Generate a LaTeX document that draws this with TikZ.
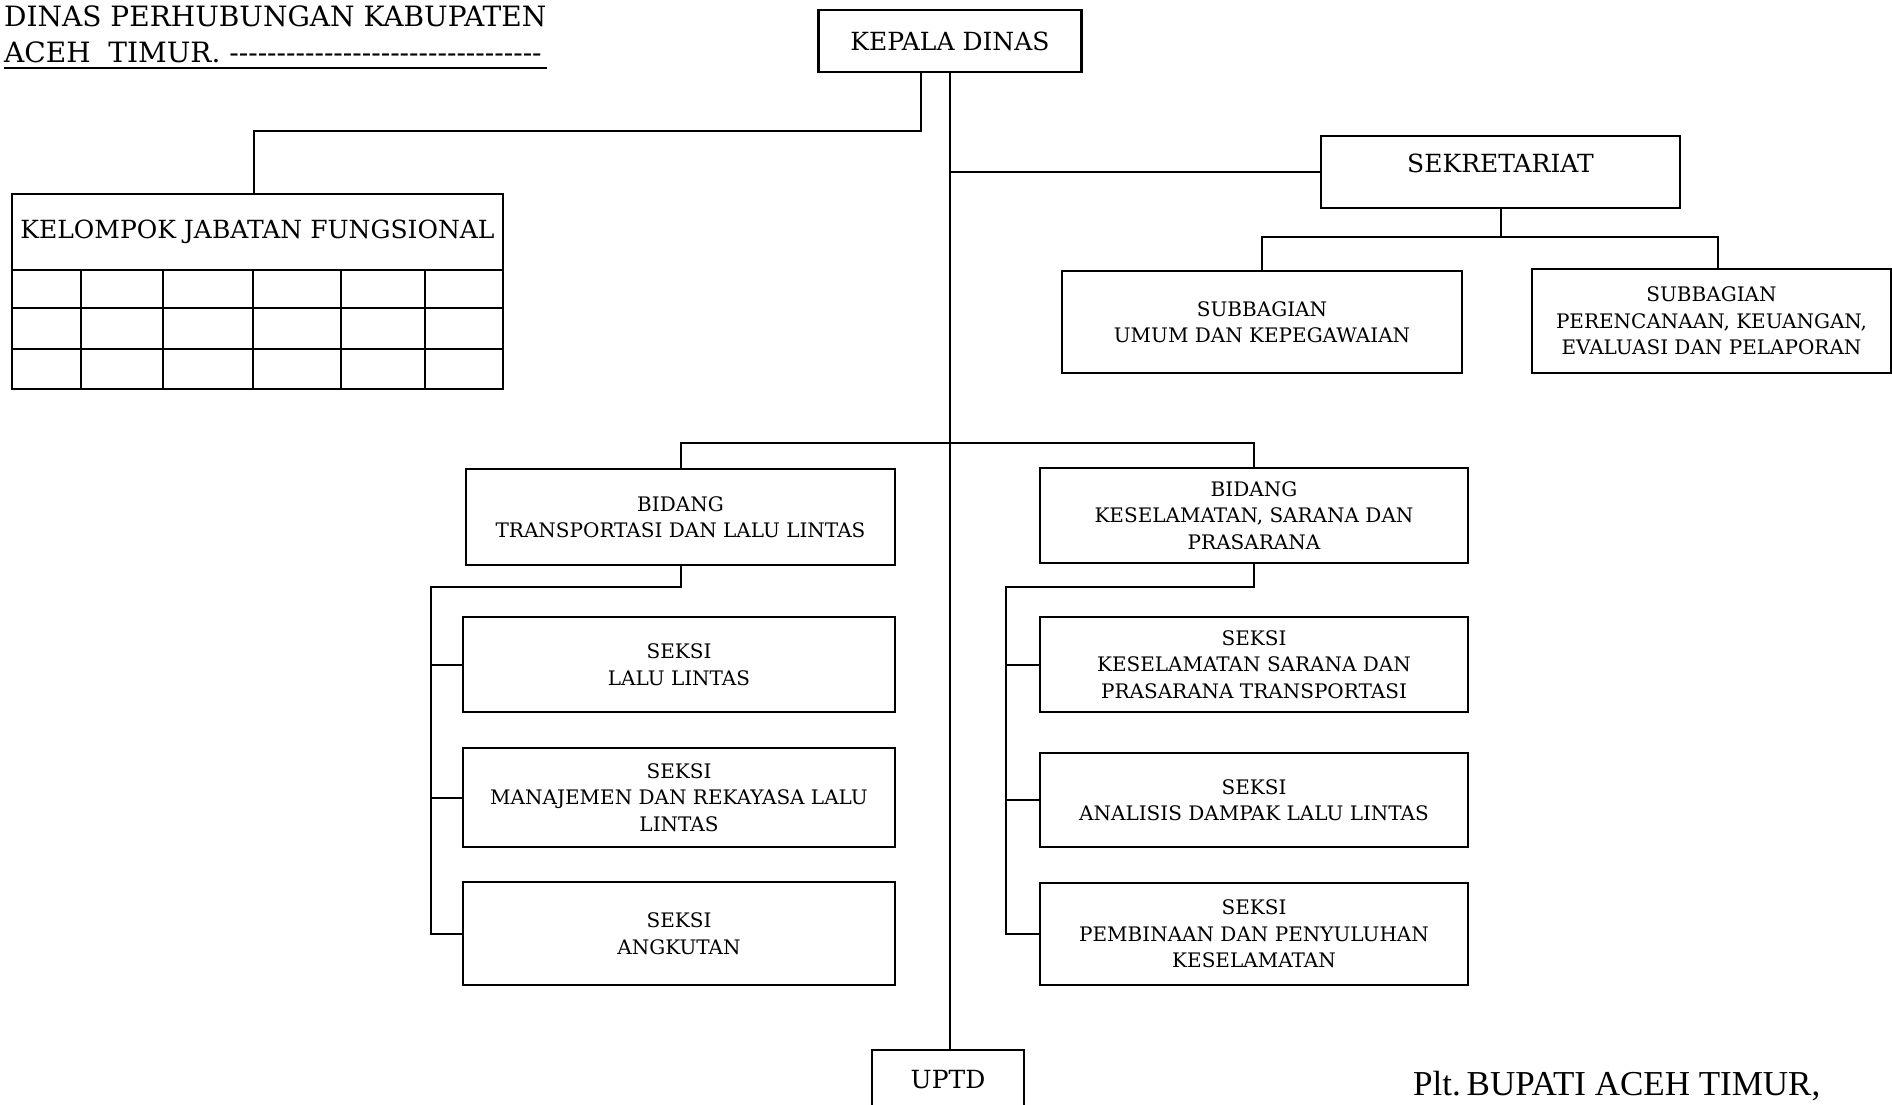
\documentclass[tikz,border=0pt]{standalone}
\usepackage{fontspec}
\setmainfont{DejaVu Serif}
\newfontfamily\timesf{Liberation Serif}
\newcommand\hy{\hbox{-}}
\begin{document}
\begin{tikzpicture}[x=1pt,y=-1pt,
  box/.style={draw, line width=2.4pt, inner sep=0pt, align=center, font=\fontsize{20}{26.5}\selectfont},
  bigfont/.style={font=\fontsize{25}{30}\selectfont},
  bigbox/.style={box, bigfont},
  conn/.style={line width=2pt}]
\useasboundingbox (0,0) rectangle (1892,1104);
\clip (0,0) rectangle (1892,1104);

% title
\node[anchor=north west, align=left, inner sep=0pt, font=\fontsize{28}{36}\selectfont] (title) at (4,6)
  {DINAS PERHUBUNGAN KABUPATEN\\ACEH\ \ TIMUR. \hy\hy\hy\hy\hy\hy\hy\hy\hy\hy\hy\hy\hy\hy\hy\hy\hy\hy\hy\hy\hy\hy\hy\hy\hy\hy\hy\hy\hy\hy\hy\hy\hy};
\draw[line width=2.2pt] ([yshift=-62pt]title.north west) -- ([yshift=-62pt]title.north east);

% boxes
\node[bigbox, minimum width=263pt, minimum height=62pt] (kd) at (950,41) {KEPALA DINAS};
\node[box, minimum width=359pt, minimum height=72pt] (sek) at (1500.5,172) {};
\node[bigfont] (sekT) at (1500.5,163) {SEKRETARIAT};
\node[box, minimum width=400pt, minimum height=102pt] (su1) at (1262,322) {SUBBAGIAN\\UMUM DAN KEPEGAWAIAN};
\node[box, minimum width=359pt, minimum height=104pt] (su2) at (1711.5,321) {SUBBAGIAN\\PERENCANAAN, KEUANGAN,\\EVALUASI DAN PELAPORAN};

\node[bigbox, minimum width=491pt, minimum height=76pt] (kjf) at (257.5,232) {KELOMPOK JABATAN FUNGSIONAL};
\draw[line width=2.4pt] (12,270) rectangle (503,389);
\draw[conn] (12,308) -- (503,308) (12,349) -- (503,349);
\foreach \cx in {81,163,253,341,425} \draw[conn] (\cx,270) -- (\cx,389);

\node[box, minimum width=429pt, minimum height=96pt] (bt) at (680.5,517) {BIDANG\\TRANSPORTASI DAN LALU LINTAS};
\node[box, minimum width=428pt, minimum height=95pt] (bk) at (1254,515.5) {BIDANG\\KESELAMATAN, SARANA DAN\\PRASARANA};

\node[box, minimum width=432pt, minimum height=95pt] (s1) at (679,664.5) {SEKSI\\LALU LINTAS};
\node[box, minimum width=432pt, minimum height=99pt] (s2) at (679,797.5) {SEKSI\\MANAJEMEN DAN REKAYASA LALU\\LINTAS};
\node[box, minimum width=432pt, minimum height=103pt] (s3) at (679,933.5) {SEKSI\\ANGKUTAN};

\node[box, minimum width=428pt, minimum height=95pt] (r1) at (1254,664.5) {SEKSI\\KESELAMATAN SARANA DAN\\PRASARANA TRANSPORTASI};
\node[box, minimum width=428pt, minimum height=94pt] (r2) at (1254,800) {SEKSI\\ANALISIS DAMPAK LALU LINTAS};
\node[box, minimum width=428pt, minimum height=102pt] (r3) at (1254,934) {SEKSI\\PEMBINAAN DAN PENYULUHAN\\KESELAMATAN};

\node[box, minimum width=152pt, minimum height=90pt, anchor=north] (uptd) at (948,1049) {};
\node[bigfont] (uptdT) at (948,1080) {UPTD};

\node[anchor=west, inner sep=0pt, font=\timesf\fontsize{35}{38}\selectfont] (plt) at (1413,1086) {Plt.\,BUPATI ACEH TIMUR,};

% connectors
\coordinate (kdL) at (921,72);
\coordinate (bj) at (950,443);
\draw[conn] (kd.south) -- (kd.south |- uptd.north);
\draw[conn] (kdL) -- ++(0,59) -| ([xshift=-4pt]kjf.north);
\draw[conn] (sek.west) -- (sek.west -| kd.south);
\draw[conn] (sek.south) -- ++(0,28) -| (su1.north);
\draw[conn] (sek.south) ++(0,28) -| ([xshift=6pt]su2.north);
\draw[conn] (bt.north) |- (bj) -| (bk.north);
\draw[conn] (bt.south) -- ++(0,21) -- ++(-249.5,0) |- (s3.west);
\draw[conn] (s1.west) -- ++(-32,0);
\draw[conn] (s2.west) -- ++(-32,0);
\draw[conn] (bk.south) -- ++(0,23) -- ++(-248,0) |- (r3.west);
\draw[conn] (r1.west) -- ++(-34,0);
\draw[conn] (r2.west) -- ++(-34,0);
\end{tikzpicture}
\end{document}
